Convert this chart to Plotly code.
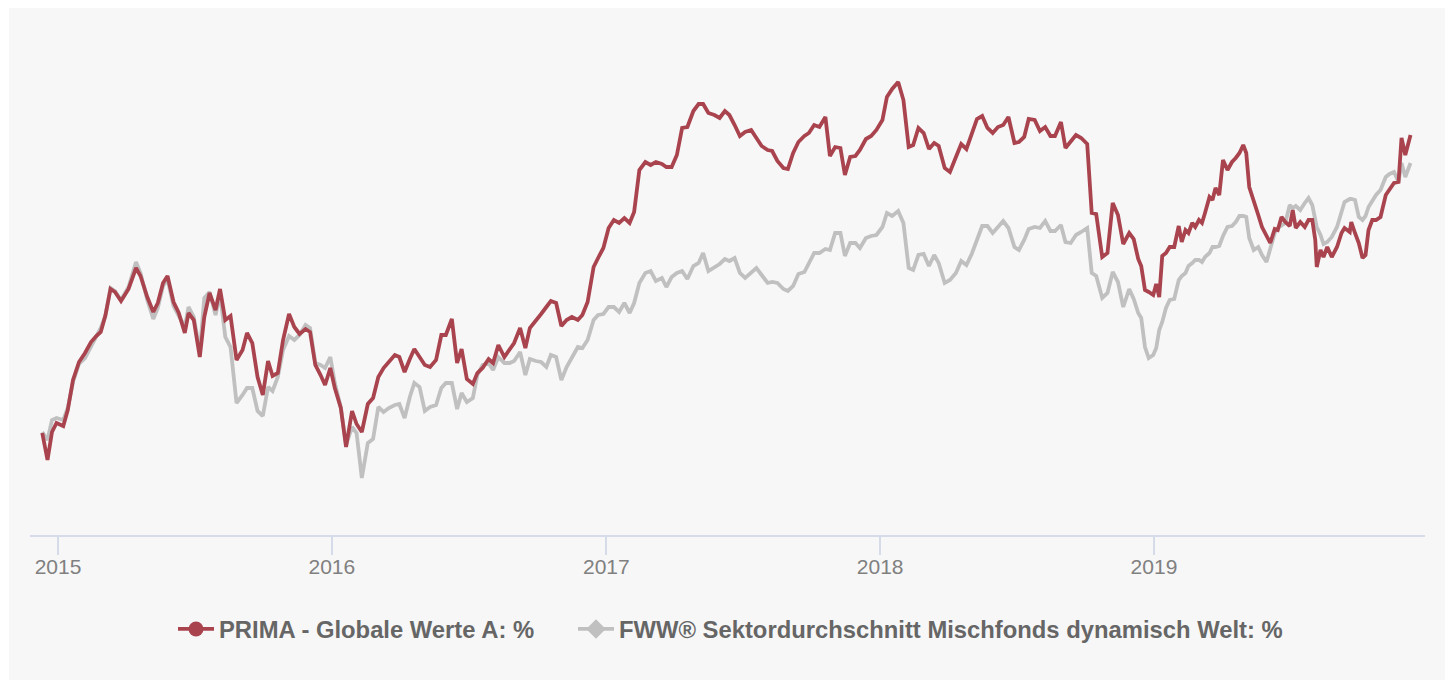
import plotly.graph_objects as go

dates = [
    "2014-12-11","2014-12-18","2014-12-24","2014-12-30","2015-01-08","2015-01-14","2015-01-21","2015-01-29","2015-02-06","2015-02-14",
    "2015-02-21","2015-02-27","2015-03-05","2015-03-12","2015-03-18","2015-03-26","2015-04-05","2015-04-15","2015-04-21","2015-04-30",
    "2015-05-08","2015-05-14","2015-05-21","2015-05-27","2015-06-04","2015-06-11","2015-06-19","2015-06-24","2015-07-01","2015-07-09",
    "2015-07-15","2015-07-22","2015-07-30","2015-08-05","2015-08-12","2015-08-19","2015-08-27","2015-09-04","2015-09-10","2015-09-17",
    "2015-09-24","2015-10-01","2015-10-08","2015-10-14","2015-10-21","2015-10-28","2015-11-05","2015-11-12","2015-11-19","2015-11-27",
    "2015-12-03","2015-12-10","2015-12-17","2015-12-23","2015-12-30",
    "2016-01-05","2016-01-13","2016-01-20","2016-01-28","2016-02-03","2016-02-10","2016-02-18","2016-02-25","2016-03-03","2016-03-10",
    "2016-03-17","2016-03-25","2016-03-31","2016-04-07","2016-04-14","2016-04-20","2016-04-27","2016-05-04","2016-05-11","2016-05-19",
    "2016-05-26","2016-06-01","2016-06-09","2016-06-16","2016-06-22","2016-06-29","2016-07-07","2016-07-13","2016-07-20","2016-07-28",
    "2016-08-03","2016-08-10","2016-08-18","2016-08-25","2016-08-31","2016-09-08","2016-09-15","2016-09-21","2016-09-29","2016-10-06",
    "2016-10-13","2016-10-19","2016-10-26","2016-11-02","2016-11-09","2016-11-16","2016-11-24","2016-11-30","2016-12-07","2016-12-15",
    "2016-12-21","2016-12-28",
    "2017-01-04","2017-01-11","2017-01-18","2017-01-25","2017-02-01","2017-02-07","2017-02-14","2017-02-22","2017-03-01","2017-03-08",
    "2017-03-16","2017-03-22","2017-03-29","2017-04-05","2017-04-12","2017-04-19","2017-04-27","2017-05-04","2017-05-10","2017-05-17",
    "2017-05-25","2017-06-01","2017-06-08","2017-06-14","2017-06-21","2017-06-28","2017-07-05","2017-07-13","2017-07-20","2017-07-27",
    "2017-08-04","2017-08-10","2017-08-17","2017-08-25","2017-08-31","2017-09-07","2017-09-14","2017-09-22","2017-09-28","2017-10-05",
    "2017-10-12","2017-10-20","2017-10-26","2017-11-02","2017-11-09","2017-11-15","2017-11-22","2017-11-29","2017-12-05","2017-12-13",
    "2017-12-20","2017-12-27",
    "2018-01-04","2018-01-10","2018-01-17","2018-01-25","2018-02-01","2018-02-08","2018-02-14","2018-02-21","2018-02-28","2018-03-07",
    "2018-03-14","2018-03-20","2018-03-28","2018-04-04","2018-04-12","2018-04-19","2018-04-26","2018-05-03","2018-05-10","2018-05-17",
    "2018-05-24","2018-05-31","2018-06-07","2018-06-14","2018-06-21","2018-06-29","2018-07-05","2018-07-12","2018-07-18","2018-07-26",
    "2018-08-02","2018-08-09","2018-08-16","2018-08-22","2018-08-30","2018-09-05","2018-09-12","2018-09-19","2018-09-26","2018-10-04",
    "2018-10-10","2018-10-16","2018-10-24","2018-10-31","2018-11-07","2018-11-14","2018-11-21","2018-11-29","2018-12-05","2018-12-11",
    "2018-12-15","2018-12-20","2018-12-25","2018-12-31",
    "2019-01-04","2019-01-08","2019-01-12","2019-01-17","2019-01-22","2019-01-28","2019-02-03","2019-02-07","2019-02-12","2019-02-16",
    "2019-02-21","2019-02-25","2019-03-02","2019-03-06","2019-03-10","2019-03-16","2019-03-20","2019-03-24","2019-03-29","2019-04-03",
    "2019-04-09","2019-04-15","2019-04-20","2019-04-25","2019-04-30","2019-05-04","2019-05-08","2019-05-14","2019-05-20","2019-05-25",
    "2019-05-31","2019-06-05","2019-06-11","2019-06-15","2019-06-20","2019-06-25","2019-07-01","2019-07-05","2019-07-09","2019-07-15",
    "2019-07-21","2019-07-26","2019-07-31","2019-08-04","2019-08-06","2019-08-11","2019-08-15","2019-08-20","2019-08-26","2019-09-02",
    "2019-09-08","2019-09-12","2019-09-19","2019-09-21","2019-09-26","2019-10-01","2019-10-06","2019-10-10","2019-10-14","2019-10-19",
    "2019-10-24","2019-10-30","2019-11-06","2019-11-11","2019-11-17","2019-11-23","2019-11-27","2019-12-02","2019-12-09",
]

prima = [
    -0.1, -2.8, 0.0, 0.9, 0.6, 2.2, 5.2, 7.0, 7.9, 9.0, 9.6, 10.0, 11.6, 14.3, 14.0, 13.1, 14.3, 16.4, 15.6, 13.5,
    12.0, 12.9, 14.9, 15.6, 13.0, 11.9, 9.9, 11.9, 11.2, 7.5, 11.5, 13.9, 12.2, 14.3, 11.2, 11.6, 7.2, 8.2, 9.9, 8.9,
    5.5, 3.7, 7.1, 5.6, 5.9, 9.2, 11.8, 10.5, 9.8, 10.3, 10.0, 6.7, 5.7, 4.7, 6.4,
    4.4, 2.4, -1.5, 2.1, 0.8, 0.0, 2.8, 3.4, 5.5, 6.4, 7.0, 7.7, 7.5, 6.0, 7.3, 8.3, 7.5, 6.7, 6.5, 7.2,
    9.7, 9.7, 11.3, 6.9, 8.3, 5.3, 4.8, 5.9, 6.4, 7.3, 6.9, 8.7, 7.5, 8.2, 8.9, 10.4, 8.4, 10.4, 11.1, 11.8,
    12.5, 13.1, 12.9, 10.6, 11.2, 11.5, 11.2, 11.7, 13.0, 16.5, 17.4, 18.4,
    20.4, 21.2, 20.9, 21.4, 20.9, 22.0, 26.2, 27.0, 26.7, 27.0, 26.8, 26.5, 26.5, 27.7, 30.4, 30.5, 32.1, 32.8, 32.8, 31.9,
    31.7, 31.4, 32.1, 31.7, 30.7, 29.6, 30.0, 30.2, 29.4, 28.6, 28.2, 28.1, 27.1, 26.4, 26.3, 27.9, 29.0, 29.6, 29.9, 30.7,
    30.5, 31.5, 27.6, 28.5, 28.4, 25.7, 27.5, 27.6, 28.2, 29.3, 29.6, 30.2,
    31.2, 33.5, 34.3, 35.0, 33.2, 28.5, 28.7, 30.4, 29.9, 28.3, 28.9, 28.6, 26.4, 26.0, 27.5, 28.8, 28.3, 29.9, 31.3, 31.6,
    30.4, 29.9, 30.5, 30.7, 31.5, 28.9, 29.0, 29.5, 31.3, 31.2, 30.1, 30.5, 29.6, 29.6, 31.0, 28.4, 29.1, 29.7, 29.4, 28.8,
    21.9, 21.8, 17.5, 17.9, 22.9, 21.7, 18.8, 19.9, 19.3, 17.3, 16.6, 14.2, 14.0, 13.7,
    14.8, 13.5, 17.6, 17.9, 18.5, 18.5, 20.6, 19.0, 20.2, 19.9, 20.9, 20.5, 21.2, 20.9, 21.9, 23.5, 23.2, 24.4, 23.7, 27.2,
    26.2, 27.0, 27.4, 27.9, 28.7, 27.9, 24.5, 23.2, 21.7, 20.5, 19.7, 18.9, 20.3, 20.2, 21.5, 21.0, 20.6, 22.2, 20.4, 21.0,
    20.5, 21.2, 21.2, 19.2, 16.5, 18.2, 17.5, 18.5, 17.5, 18.5, 19.9, 20.4, 20.0, 21.0, 19.9, 18.9, 17.4, 17.7, 20.2, 21.2,
    21.2, 21.5, 23.7, 24.2, 24.9, 25.0, 29.4, 27.7, 29.7,
]

sector = [
    0.0, -0.8, 1.2, 1.4, 1.2, 2.4, 5.0, 6.8, 7.4, 8.5, 9.4, 10.4, 11.6, 14.4, 14.1, 13.2, 14.5, 17.0, 15.9, 13.2,
    11.3, 12.4, 14.6, 15.3, 12.6, 11.7, 10.5, 12.5, 11.5, 8.0, 13.4, 14.0, 11.7, 13.8, 9.5, 8.5, 2.9, 3.7, 4.4, 4.4,
    2.1, 1.6, 4.5, 4.1, 5.5, 8.2, 9.6, 9.2, 9.7, 10.7, 10.4, 6.9, 6.7, 6.4, 7.5,
    4.9, 2.5, -1.3, 0.5, -0.1, -4.6, -1.1, -0.7, 2.5, 2.0, 2.4, 2.7, 2.8, 1.4, 3.5, 4.9, 4.5, 2.1, 2.5, 2.7,
    4.4, 4.9, 4.9, 2.3, 3.9, 3.0, 3.4, 5.7, 6.7, 6.9, 6.2, 7.5, 6.9, 6.9, 7.1, 8.0, 5.7, 7.3, 7.1, 7.0,
    6.5, 7.7, 7.5, 5.2, 6.5, 7.5, 8.5, 8.4, 9.2, 11.2, 11.7, 11.8,
    12.5, 12.5, 12.0, 12.9, 11.9, 12.9, 14.9, 15.9, 16.1, 15.1, 15.4, 14.5, 15.5, 15.9, 16.1, 15.3, 16.6, 16.9, 17.9, 16.1,
    16.5, 16.8, 17.3, 17.1, 17.4, 15.9, 15.4, 16.0, 16.4, 15.7, 14.9, 15.0, 14.9, 14.3, 14.1, 14.6, 15.8, 16.0, 16.9, 17.9,
    17.9, 18.3, 18.2, 19.9, 19.9, 17.6, 18.9, 18.9, 18.4, 19.4, 19.6, 19.7,
    20.5, 21.9, 21.6, 22.1, 20.9, 16.4, 16.2, 17.7, 17.8, 16.6, 17.7, 16.9, 14.9, 15.2, 15.9, 17.1, 16.7, 17.8, 19.2, 20.6,
    20.6, 19.9, 20.5, 21.1, 20.4, 18.5, 18.2, 19.2, 20.3, 20.5, 20.4, 21.1, 20.1, 20.1, 20.7, 19.0, 18.9, 19.7, 20.0, 20.4,
    15.9, 15.6, 13.4, 13.9, 16.0, 15.0, 12.5, 14.3, 13.3, 11.9, 11.4, 8.5, 7.4, 7.7,
    8.4, 10.2, 11.0, 12.4, 13.2, 13.3, 15.2, 15.6, 15.9, 16.6, 16.9, 17.2, 17.2, 17.0, 17.5, 17.9, 18.5, 18.5, 18.6, 19.6,
    20.5, 20.6, 21.0, 21.6, 21.6, 21.5, 19.4, 18.2, 18.5, 17.7, 17.0, 18.2, 19.9, 20.4, 20.7, 20.9, 22.7, 22.4, 22.6, 22.2,
    22.9, 23.4, 22.7, 21.2, 20.5, 19.7, 18.8, 19.0, 19.5, 20.5, 21.9, 23.0, 23.3, 23.3, 23.2, 21.5, 21.2, 21.6, 22.5, 23.2,
    23.7, 24.2, 25.5, 25.8, 26.0, 25.0, 26.9, 25.5, 26.9,
]

tick_dates = ["2015-01-01", "2016-01-01", "2017-01-01", "2018-01-01", "2019-01-01"]
tick_labels = ["2015", "2016", "2017", "2018", "2019"]

name_prima = "PRIMA - Globale Werte A: %"
name_sector = "FWW® Sektordurchschnitt Mischfonds dynamisch Welt: %"

RED = "#a9444f"
GRAY = "#c0c0c0"
FONT = "Liberation Sans, Arial, Helvetica, sans-serif"

fig = go.Figure()
fig.add_trace(go.Scatter(x=dates, y=sector, mode="lines", name=name_sector,
                         line=dict(color=GRAY, width=3.8), showlegend=False,
                         hovertemplate="%{x|%d.%m.%Y}: %{y:.1f}%<extra></extra>"))
fig.add_trace(go.Scatter(x=dates, y=prima, mode="lines", name=name_prima,
                         line=dict(color=RED, width=3.8), showlegend=False,
                         hovertemplate="%{x|%d.%m.%Y}: %{y:.1f}%<extra></extra>"))
# legend entries (line + marker symbol)
fig.add_trace(go.Scatter(x=[None], y=[None], mode="lines+markers", name=name_prima,
                         line=dict(color=RED, width=3.8),
                         marker=dict(symbol="circle", size=15, color=RED),
                         legend="legend"))
fig.add_trace(go.Scatter(x=[None], y=[None], mode="lines+markers", name=name_sector,
                         line=dict(color=GRAY, width=3.8),
                         marker=dict(symbol="diamond", size=15, color=GRAY),
                         legend="legend2"))

W, H = 1451, 682
ML, MR, MT, MB = 30, 26, 30, 147
PW, PH = W - ML - MR, H - MT - MB


def px_x(p):
    return (p - ML) / PW


def px_y(p):
    return (H - MB - p) / PH


legend_font = dict(family=FONT, size=23.8, color="#666666", weight="bold")

fig.update_layout(
    width=W, height=H,
    margin=dict(l=ML, r=MR, t=MT, b=MB),
    paper_bgcolor="#ffffff",
    plot_bgcolor="rgba(0,0,0,0)",
    font=dict(family=FONT),
    hovermode="closest",
    showlegend=True,
    legend=dict(orientation="h", x=px_x(173), xanchor="left", y=px_y(629), yanchor="middle",
                font=legend_font, bgcolor="rgba(0,0,0,0)", itemwidth=36),
    legend2=dict(orientation="h", x=px_x(573), xanchor="left", y=px_y(629), yanchor="middle",
                 font=legend_font, bgcolor="rgba(0,0,0,0)", itemwidth=36),
    shapes=[dict(type="rect", xref="paper", yref="paper", layer="below",
                 x0=px_x(9), x1=px_x(1445), y0=px_y(680), y1=px_y(8),
                 fillcolor="#f7f7f7", line=dict(width=0))],
    xaxis=dict(
        type="date",
        range=["2014-11-24 16:00", "2019-12-28 07:00"],
        tickvals=tick_dates, ticktext=tick_labels,
        showgrid=False, zeroline=False,
        showline=True, linecolor="#d5dbe8", linewidth=2,
        ticks="outside", ticklen=18, tickwidth=2, tickcolor="#d5dbe8",
        ticklabelstandoff=-6,
        tickfont=dict(family=FONT, size=21, color="#808080"),
    ),
    yaxis=dict(range=[-10.3, 40.2], showgrid=False, zeroline=False,
               showticklabels=False, showline=False, ticks=""),
)

fig.write_html("out.html", config={"displayModeBar": False},
               post_script="document.body.style.margin='0';")
